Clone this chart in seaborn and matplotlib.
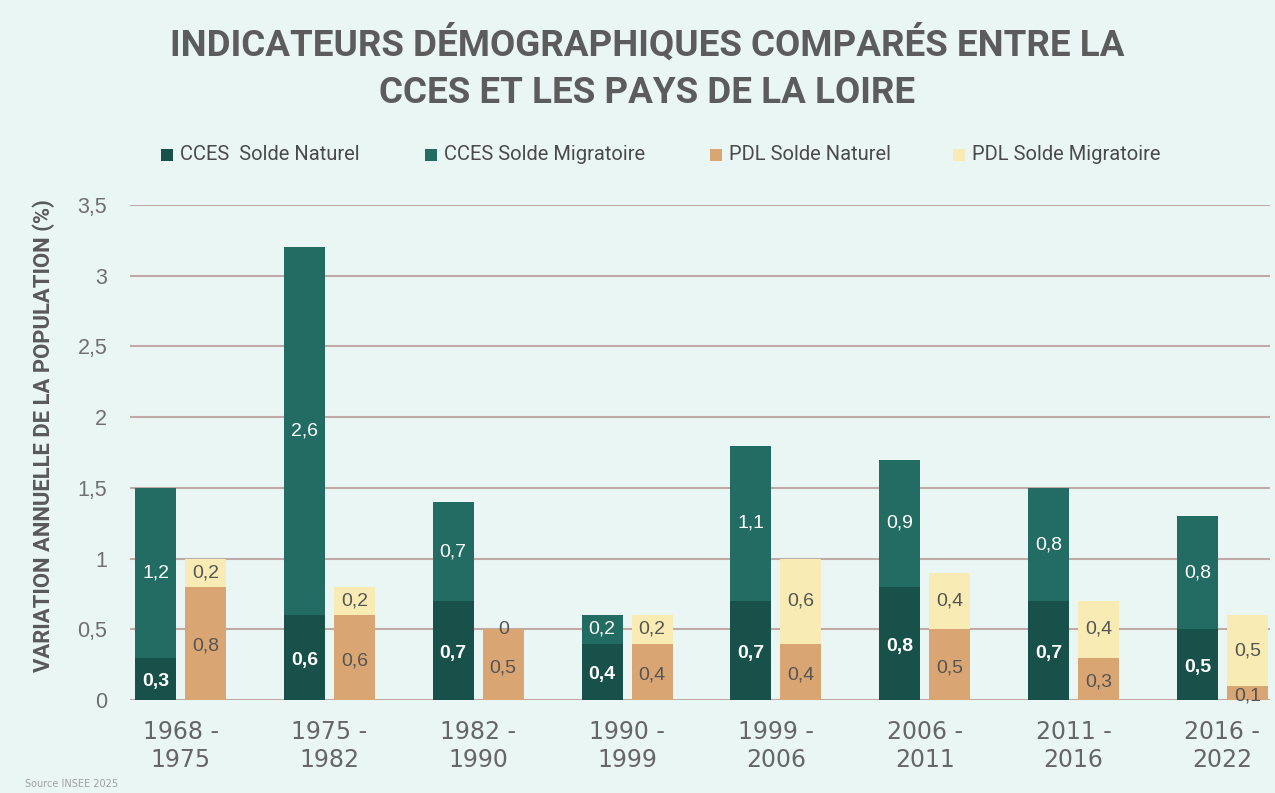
import pandas as pd
import matplotlib.pyplot as plt
import seaborn as sns
from matplotlib.patches import Rectangle
from matplotlib.ticker import FuncFormatter

# Data (INSEE 2025)
periods = ["1968 -\n1975", "1975 -\n1982", "1982 -\n1990", "1990 -\n1999",
           "1999 -\n2006", "2006 -\n2011", "2011 -\n2016", "2016 -\n2022"]
cces_naturel = [0.3, 0.6, 0.7, 0.4, 0.7, 0.8, 0.7, 0.5]
cces_migratoire = [1.2, 2.6, 0.7, 0.2, 1.1, 0.9, 0.8, 0.8]
pdl_naturel = [0.8, 0.6, 0.5, 0.4, 0.4, 0.5, 0.3, 0.1]
pdl_migratoire = [0.2, 0.2, 0.0, 0.2, 0.6, 0.4, 0.4, 0.5]
series_names = ["CCES  Solde Naturel", "CCES Solde Migratoire",
                "PDL Solde Naturel", "PDL Solde Migratoire"]

c_dark = "#18504a"
c_teal = "#226c64"
c_tan = "#d9a573"
c_yellow = "#f8ebb3"
bg = "#eaf6f4"

df = pd.DataFrame({
    "period": periods * 2,
    "zone": ["CCES"] * 8 + ["PDL"] * 8,
    "naturel": cces_naturel + pdl_naturel,
    "migratoire": cces_migratoire + pdl_migratoire,
})
df["total"] = df["naturel"] + df["migratoire"]

sns.set_style("white")
plt.rcParams["font.family"] = ["Liberation Sans", "DejaVu Sans"]

fig = plt.figure(figsize=(12.75, 7.93), dpi=100, facecolor=bg)
ax = fig.add_axes([0.102, 0.117, 0.894, 0.6245])
ax.set_facecolor(bg)

# total bars (migratoire on top), then naturel drawn over the bottom part
bar_kw = dict(width=0.672, gap=0.18, errorbar=None, legend=False, saturation=1, ax=ax, zorder=2)
sns.barplot(data=df, x="period", y="total", hue="zone", palette=[c_teal, c_yellow], **bar_kw)
sns.barplot(data=df, x="period", y="naturel", hue="zone", palette=[c_dark, c_tan], **bar_kw)
for p in ax.patches:
    p.set_linewidth(0)

fmt = lambda v: f"{v:g}".replace(".", ",")

# segment labels
tot_cces, tot_pdl, nat_cces, nat_pdl = ax.containers[:4]
for i in range(len(periods)):
    for cont, nat, mig, col in [(nat_cces, cces_naturel, cces_migratoire, "white"),
                                (nat_pdl, pdl_naturel, pdl_migratoire, "#555555")]:
        p = cont.patches[i]
        xc = p.get_x() + p.get_width() / 2
        bold = "bold" if col == "white" else "normal"
        ax.text(xc, nat[i] / 2 - 0.02, fmt(nat[i]), ha="center", va="center",
                color=col, fontsize=14, fontweight=bold, zorder=3)
        ax.text(xc, nat[i] + mig[i] / 2, fmt(mig[i]), ha="center", va="center",
                color=col, fontsize=14, zorder=3)

ax.set_ylim(0, 3.5)
ax.set_xlim(-0.339, 7.319)
ax.set_yticks([0, 0.5, 1, 1.5, 2, 2.5, 3, 3.5])
ax.yaxis.set_major_formatter(FuncFormatter(lambda v, pos: fmt(v)))
ax.yaxis.grid(True, color="#c0aaa8", linewidth=1.5, zorder=0)
ax.set_axisbelow(True)
sns.despine(ax=ax, left=True, bottom=True)
ax.tick_params(axis="y", length=0, labelsize=15.5, labelcolor="#6f6f6f", pad=16.5)
ax.tick_params(axis="x", length=0, labelsize=17, labelcolor="#666666", pad=14)
for lab in ax.get_xticklabels():
    lab.set_family("DejaVu Sans")
    lab.set_linespacing(1.25)
ax.set_xlabel("")
ax.set_ylabel("VARIATION ANNUELLE DE LA POPULATION (%)", fontsize=15.8,
              fontweight="bold", color="#595959", family="Roboto")
ax.yaxis.set_label_coords(-0.066, 0.535)

title_lines = ["INDICATEURS DÉMOGRAPHIQUES COMPARÉS ENTRE LA", "CCES ET LES PAYS DE LA LOIRE"]
for line, ypx in zip(title_lines, [56, 103]):
    fig.text(647 / 1275, 1 - ypx / 793, line, ha="center", va="baseline", fontsize=26.5,
             fontweight="bold", color="#5c5c5c", family="Roboto")

# legend, laid out like the original (fixed slots)
legend_colors = [c_dark, c_teal, c_tan, c_yellow]
legend_x = [161, 425, 710, 953]
for name, col, xpx in zip(series_names, legend_colors, legend_x):
    fig.add_artist(Rectangle((xpx / 1275, 1 - 161 / 793), 12 / 1275, 12 / 793,
                             transform=fig.transFigure, facecolor=col, edgecolor="none"))
    fig.text((xpx + 19) / 1275, 1 - 155 / 793, name, ha="left", va="center",
             fontsize=14.5, color="#4a4a4a", family="Roboto")

fig.text(25 / 1275, 0.007, "Source INSEE 2025", fontsize=7, color="#a0a0a0",
         family="DejaVu Sans")

fig.savefig("out.png", dpi=100, facecolor=bg)
